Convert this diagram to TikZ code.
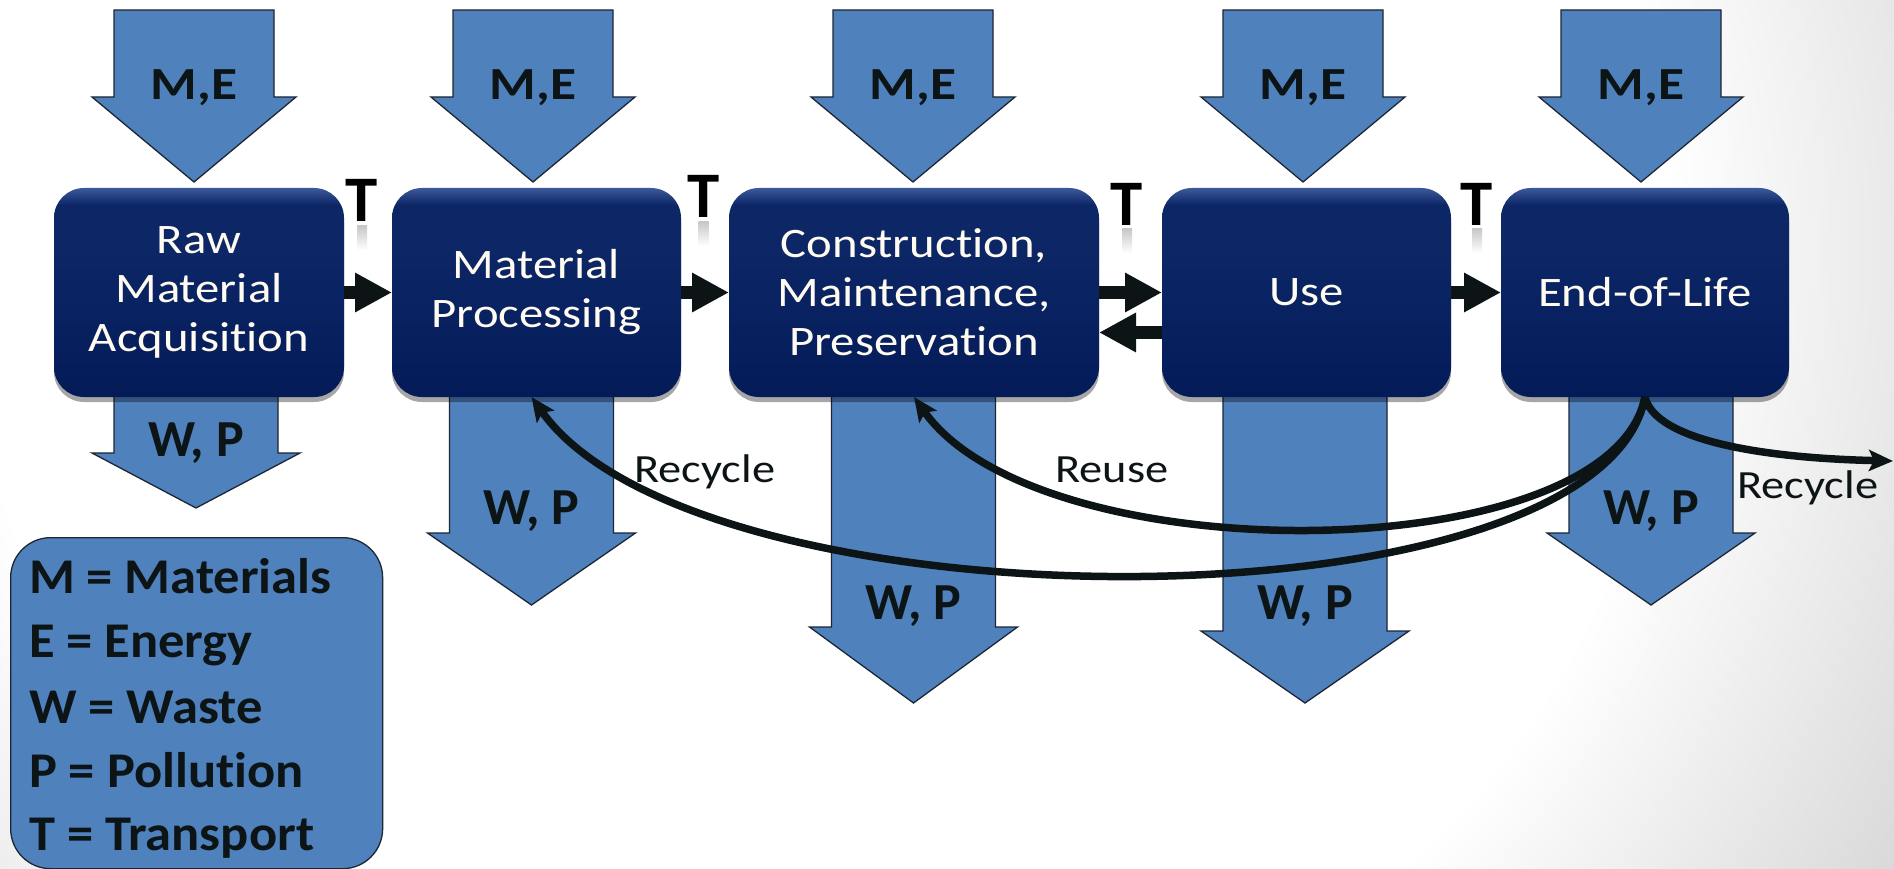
\documentclass[tikz,border=0pt]{standalone}
\usepackage{fontspec}
\setmainfont{Carlito}[Ligatures=NoCommon]
\newfontfamily\boxfont{Carlito}[FakeStretch=1.16,Ligatures=NoCommon]
\newfontfamily\legfont{Carlito}[FakeStretch=1.05,Ligatures=NoCommon]
\usetikzlibrary{arrows.meta,shadows}
\definecolor{arrowblue}{RGB}{79,129,189}
\definecolor{arrowline}{RGB}{28,38,52}
\definecolor{boxtop}{RGB}{60,90,155}
\definecolor{boxmid}{RGB}{12,38,102}
\definecolor{boxbot}{RGB}{4,27,88}
\definecolor{ink}{RGB}{12,20,22}
\definecolor{txtwhite}{RGB}{255,251,240}
\definecolor{bggray}{RGB}{216,216,216}
\pgfdeclareverticalshading{boxshade}{100bp}{color(0bp)=(boxbot); color(25bp)=(boxbot); color(60bp)=(boxmid); color(71bp)=(boxmid); color(75bp)=(boxtop); color(100bp)=(boxtop)}
\pgfdeclareradialshading{bgshade}{\pgfpointorigin}{color(0bp)=(white); color(17bp)=(white); color(25bp)=(bggray); color(50bp)=(bggray)}
\begin{document}
\begin{tikzpicture}[x=1pt,y=-1pt,
  blockarrow/.style={fill=arrowblue, draw=arrowline, line width=1.3pt, line join=miter},
  stage/.style={rectangle, rounded corners=30pt, minimum height=209pt, inner sep=0pt, outer sep=0pt,
    shading=boxshade, text=txtwhite, align=center,
    font={\boxfont\fontsize{42pt}{49pt}\selectfont},
    drop shadow={shadow xshift=0pt, shadow yshift=-5pt, opacity=0.35, fill=black}},
  melabel/.style={anchor=base, inner sep=0pt, text=ink, font={\boxfont\bfseries\fontsize{46pt}{52pt}\selectfont}},
  wplabel/.style={anchor=base, inner sep=0pt, text=ink, font={\bfseries\fontsize{52pt}{58pt}\selectfont}},
  tlabel/.style={anchor=base, inner sep=0pt, text=black, font={\bfseries\fontsize{65pt}{70pt}\selectfont}},
  flowlabel/.style={anchor=base west, inner sep=0pt, text=ink, font={\boxfont\fontsize{40pt}{46pt}\selectfont}},
  legline/.style={anchor=base west, inner sep=0pt, text=ink, font={\legfont\bfseries\fontsize{50pt}{56pt}\selectfont}},
  conn/.style={draw=ink, line width=13pt, -{Triangle[length=37pt,width=37pt]}},
  loopline/.style={draw=ink, line width=7.5pt, -{Stealth[length=24pt,width=21pt,inset=5pt]}}
]
\useasboundingbox (0,0) rectangle (1894,869);
% background
\begin{scope}
  \clip (0,0) rectangle (1894,869);
  \fill[bggray] (0,0) rectangle (1894,869);
  \shade[shading=bgshade] (820,250) circle[radius=1250pt];
\end{scope}
% input arrows M,E
\foreach \cx in {194,533,913,1303,1641}{
  \draw[blockarrow] (\cx-80,10) -- (\cx+80,10) -- (\cx+80,97) -- (\cx+102,97) -- (\cx,182) -- (\cx-102,97) -- (\cx-80,97) -- cycle;
}
% output arrows W,P
\foreach \cx/\yb/\yt in {196/453/508, 531.5/533/605, 913.5/627/703, 1305/631/703, 1651/533/605}{
  \draw[blockarrow] (\cx-82,380) -- (\cx+82,380) -- (\cx+82,\yb) -- (\cx+104,\yb) -- (\cx,\yt) -- (\cx-104,\yb) -- (\cx-82,\yb) -- cycle;
}
% stages
\node[stage, minimum width=290pt] (b1) at (199,292.5) {Raw\\Material\\Acquisition};
\node[stage, minimum width=289pt] (b2) at (536.5,292.5) {Material\\Processing};
\node[stage, minimum width=370pt] (b3) at (914,292.5) {Construction,\\Maintenance,\\Preservation};
\node[stage, minimum width=289pt] (b4) at (1306.5,292.5) {Use};
\node[stage, minimum width=288pt] (b5) at (1645,292.5) {End-of-Life};
% transport connectors
\draw[conn] (b1.east) -- (b2.west);
\draw[conn] (b2.east) -- (b3.west);
\draw[conn] (b3.east) -- (b4.west);
\draw[conn] ([yshift=-40pt]b4.west) -- ([yshift=-40pt]b3.east);
\draw[conn] (b4.east) -- (b5.west);
% reuse / recycle loops
\coordinate (out) at (1893,461);
\draw[loopline] (b5.south) .. controls (1610,570) and (1040,575) .. (b3.south);
\draw[loopline] (b5.south) .. controls (1600,634) and (700,634) .. ([xshift=-5pt]b2.south);
\draw[loopline] (b5.south) .. controls (1655,440) and (1760,458) .. (out);
% labels
\foreach \cx [count=\i] in {194,533,913,1303,1641}{
  \node[melabel] (me\i) at (\cx,100) {M,E};
}
\foreach \cx/\yb [count=\i] in {196/456, 531.5/524, 913.5/619, 1305/619, 1651/524}{
  \node[wplabel] (wp\i) at (\cx,\yb) {W, P};
}
\node[flowlabel] (rec1) at (634,482) {Recycle};
\node[flowlabel] (reuse) at (1055,482) {Reuse};
\node[flowlabel] (rec2) at (1737,498) {Recycle};
% transport labels with faint reflection
\foreach \cx/\yb [count=\i] in {362/222, 703.5/218, 1127/225, 1477/225}{
  \shade[top color=gray!45, bottom color=white] (\cx-5,\yb+3) rectangle (\cx+5,\yb+28);
  \node[tlabel] (t\i) at (\cx,\yb) {T};
}
% legend
\node[rectangle, rounded corners=40pt, fill=arrowblue, draw=arrowline, line width=1.3pt,
      anchor=north west, minimum width=372pt, minimum height=331pt, inner sep=0pt] (leg) at (10,537) {};
\node[legline] (l1) at (29,593) {M = Materials};
\node[legline] (l2) at (29,657) {E = Energy};
\node[legline] (l3) at (29,723) {W = Waste};
\node[legline] (l4) at (29,787) {P = Pollution};
\node[legline] (l5) at (29,850) {T = Transport};
\end{tikzpicture}
\end{document}
